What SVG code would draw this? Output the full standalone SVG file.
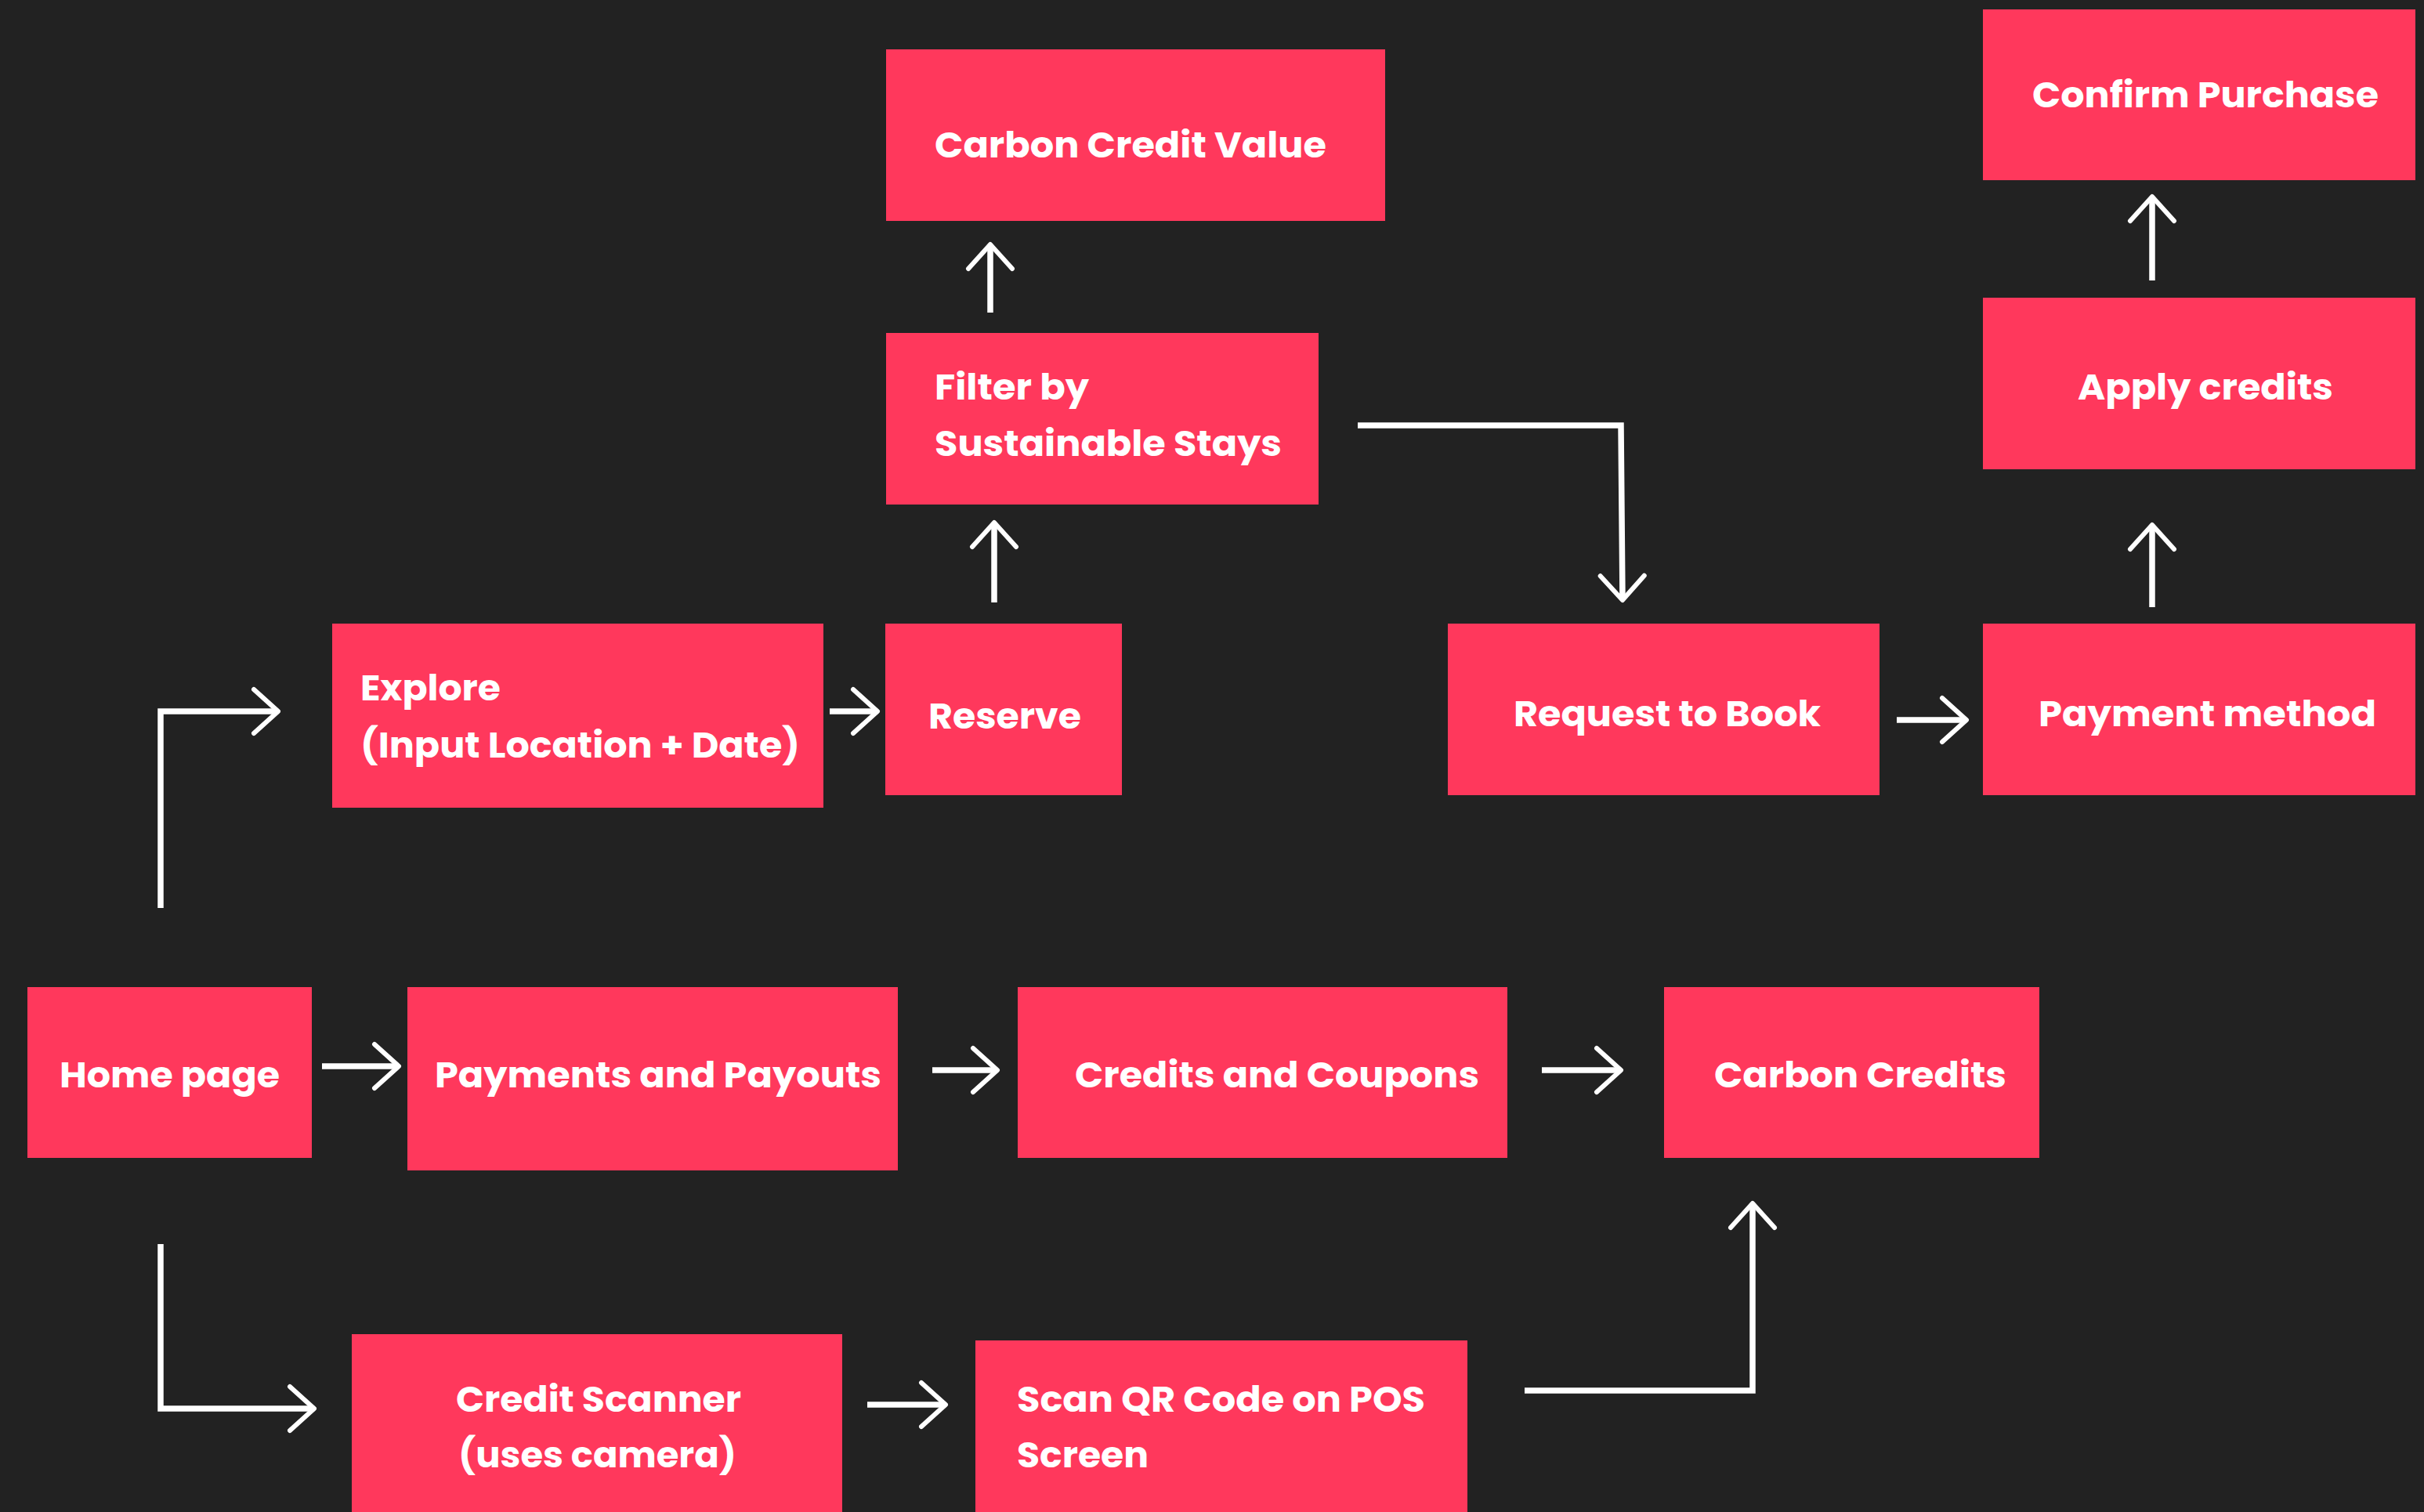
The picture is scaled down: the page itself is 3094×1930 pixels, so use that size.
<svg xmlns="http://www.w3.org/2000/svg" width="3094" height="1930" viewBox="0 0 3094 1930">
<style>
.box{fill:#FF385C}
.t{font-family:"Poppins","Open Sans","Liberation Sans",sans-serif;font-weight:700;font-size:46px;fill:#FFFFFF}
.c{fill:none;stroke:#FFFFFF;stroke-width:7.5}
</style>
<defs>
<marker id="ah" markerUnits="userSpaceOnUse" viewBox="-40 -36 48 72" refX="0" refY="0" markerWidth="48" markerHeight="72" orient="auto" overflow="visible">
<path d="M-31,-28 L0,0 L-31,28" fill="none" stroke="#FFFFFF" stroke-width="6" stroke-linecap="round" stroke-linejoin="round"/>
</marker>
</defs>
<rect width="3094" height="1930" fill="#222222"/>
<g id="connectors">
<path class="c" d="M205,1159 V908 H355" marker-end="url(#ah)"/>
<path class="c" d="M1059,908 H1120" marker-end="url(#ah)"/>
<path class="c" d="M1269,769 V667" marker-end="url(#ah)"/>
<path class="c" d="M1264,399 V312" marker-end="url(#ah)"/>
<path class="c" d="M1733,543 H2069 L2071,766" marker-end="url(#ah)"/>
<path class="c" d="M2421,919 H2510" marker-end="url(#ah)"/>
<path class="c" d="M2747,775 V670" marker-end="url(#ah)"/>
<path class="c" d="M2747,358 V251" marker-end="url(#ah)"/>
<path class="c" d="M411,1361 H509" marker-end="url(#ah)"/>
<path class="c" d="M1190,1366 H1273" marker-end="url(#ah)"/>
<path class="c" d="M1968,1366 H2069" marker-end="url(#ah)"/>
<path class="c" d="M205,1588 V1798 H401" marker-end="url(#ah)"/>
<path class="c" d="M1107,1793 H1207" marker-end="url(#ah)"/>
<path class="c" d="M1946,1775 H2237 V1536" marker-end="url(#ah)"/>
</g>
<g id="carbon-credit-value"><rect class="box" x="1131" y="63" width="637" height="219"/><text class="t" x="1193" y="201" textLength="500" lengthAdjust="spacingAndGlyphs">Carbon Credit Value</text></g>
<g id="confirm-purchase"><rect class="box" x="2531" y="12" width="552" height="218"/><text class="t" x="2594" y="137" textLength="442" lengthAdjust="spacingAndGlyphs">Confirm Purchase</text></g>
<g id="filter"><rect class="box" x="1131" y="425" width="552" height="219"/><text class="t" x="1193" y="510" textLength="197" lengthAdjust="spacingAndGlyphs">Filter by</text><text class="t" x="1193" y="582" textLength="443" lengthAdjust="spacingAndGlyphs">Sustainable Stays</text></g>
<g id="apply-credits"><rect class="box" x="2531" y="380" width="552" height="219"/><text class="t" x="2652" y="510" textLength="326" lengthAdjust="spacingAndGlyphs">Apply credits</text></g>
<g id="explore"><rect class="box" x="424" y="796" width="627" height="235"/><text class="t" x="460" y="894" textLength="179" lengthAdjust="spacingAndGlyphs">Explore</text><text class="t" x="460" y="967" textLength="561" lengthAdjust="spacingAndGlyphs">(Input Location + Date)</text></g>
<g id="reserve"><rect class="box" x="1130" y="796" width="302" height="219"/><text class="t" x="1185" y="930" textLength="195" lengthAdjust="spacingAndGlyphs">Reserve</text></g>
<g id="request-to-book"><rect class="box" x="1848" y="796" width="551" height="219"/><text class="t" x="1932" y="927" textLength="392" lengthAdjust="spacingAndGlyphs">Request to Book</text></g>
<g id="payment-method"><rect class="box" x="2531" y="796" width="552" height="219"/><text class="t" x="2602" y="927" textLength="431" lengthAdjust="spacingAndGlyphs">Payment method</text></g>
<g id="home-page"><rect class="box" x="35" y="1260" width="363" height="218"/><text class="t" x="76" y="1388" textLength="281" lengthAdjust="spacingAndGlyphs">Home page</text></g>
<g id="payments-and-payouts"><rect class="box" x="520" y="1260" width="626" height="234"/><text class="t" x="555" y="1388" textLength="570" lengthAdjust="spacingAndGlyphs">Payments and Payouts</text></g>
<g id="credits-and-coupons"><rect class="box" x="1299" y="1260" width="625" height="218"/><text class="t" x="1372" y="1388" textLength="516" lengthAdjust="spacingAndGlyphs">Credits and Coupons</text></g>
<g id="carbon-credits"><rect class="box" x="2124" y="1260" width="479" height="218"/><text class="t" x="2188" y="1388" textLength="373" lengthAdjust="spacingAndGlyphs">Carbon Credits</text></g>
<g id="credit-scanner"><rect class="box" x="449" y="1703" width="626" height="240"/><text class="t" x="582" y="1802" textLength="364" lengthAdjust="spacingAndGlyphs">Credit Scanner</text><text class="t" x="585" y="1873" textLength="355" lengthAdjust="spacingAndGlyphs">(uses camera)</text></g>
<g id="scan-qr"><rect class="box" x="1245" y="1711" width="628" height="232"/><text class="t" x="1298" y="1802" textLength="521" lengthAdjust="spacingAndGlyphs">Scan QR Code on POS</text><text class="t" x="1298" y="1873" textLength="168" lengthAdjust="spacingAndGlyphs">Screen</text></g>
</svg>
